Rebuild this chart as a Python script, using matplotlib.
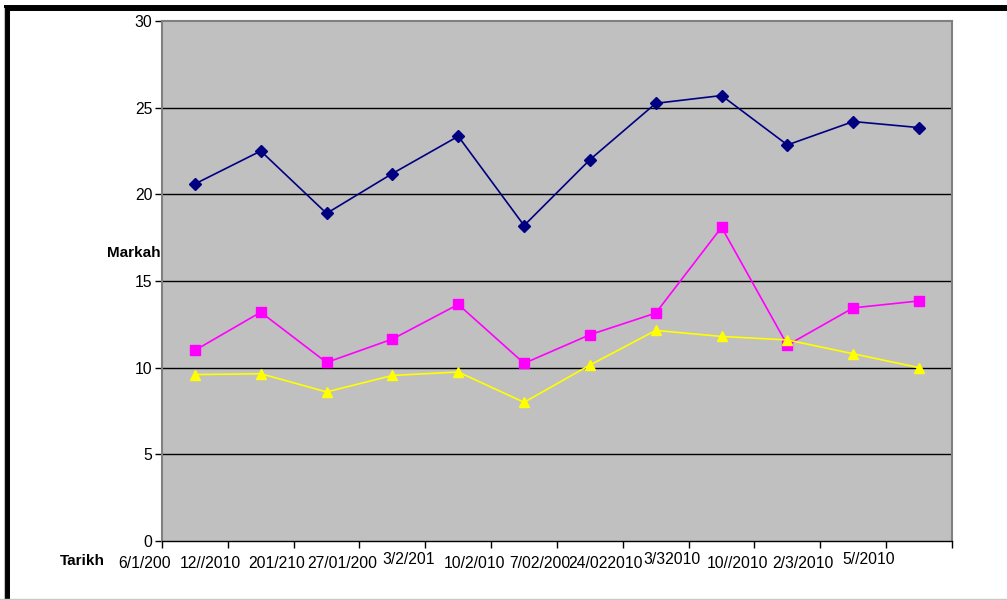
import matplotlib
matplotlib.use("Agg")
import matplotlib.pyplot as plt
from matplotlib.lines import Line2D

plt.rcParams["font.family"] = ["Liberation Sans", "DejaVu Sans"]

# Tarikh ujian dan markah bagi tiga siri
tarikh = ["6/1/200", "12//2010", "201/210", "27/01/200", "3/2/201", "10/2/010",
          "7/02/200", "24/022010", "3/32010", "10//2010", "2/3/2010", "5//2010"]
siri_biru = [20.6, 22.5, 18.9, 21.2, 23.35, 18.2, 22.0, 25.25, 25.7, 22.85, 24.2, 23.85]
siri_merah = [11.0, 13.2, 10.3, 11.65, 13.65, 10.25, 11.9, 13.15, 18.1, 11.3, 13.45, 13.85]
siri_kuning = [9.6, 9.65, 8.6, 9.55, 9.75, 8.0, 10.15, 12.15, 11.8, 11.6, 10.8, 10.0]
label_naik = [4, 8, 11]  # label yang terangkat sedikit

W, H = 1007, 600
fig = plt.figure(figsize=(W / 100, H / 100), dpi=100)
fig.patch.set_facecolor("white")

ax = fig.add_axes([162 / W, 1 - 541 / H, (952 - 162) / W, (541 - 21) / H])
ax.set_facecolor("#C0C0C0")

x = list(range(len(tarikh)))
ax.plot(x, siri_biru, color="#000080", lw=1.2, marker="D", ms=6.3, zorder=3)
ax.plot(x, siri_merah, color="#FF00FF", lw=1.2, marker="s", ms=6.5, zorder=3)
ax.plot(x, siri_kuning, color="#FFFF00", lw=1.2, marker="^", ms=7.5, zorder=3)

ax.set_xlim(-0.5, len(tarikh) - 0.5)
ax.set_ylim(0, 30)
ax.set_yticks(range(0, 31, 5))
ax.set_xticks([i - 0.5 for i in range(len(tarikh) + 1)])
ax.set_xticklabels([])
ax.tick_params(axis="y", direction="out", length=5, width=1, labelsize=11.3, pad=2)
ax.tick_params(axis="x", direction="out", length=5, width=1)

for v in range(5, 30, 5):
    ax.axhline(v, color="black", lw=1, zorder=1)

for s in ["top", "right", "left"]:
    ax.spines[s].set_color("#808080")
    ax.spines[s].set_linewidth(1.5)
ax.spines["bottom"].set_color("black")
ax.spines["bottom"].set_linewidth(1)

# Label tarikh, dianjak ke kiri seperti asal
tr = ax.get_xaxis_transform()
for i, t in enumerate(tarikh):
    dy = 3 if i in label_naik else 0
    ax.text(i - 0.76, -(22 - dy) / 520, t, transform=tr, ha="center", va="center",
            fontsize=11.3, clip_on=False)

fig.text(105 / W, 1 - 561 / H, "Tarikh", ha="right", va="center", fontsize=11,
         fontweight="bold")
fig.text(161 / W, 1 - 253 / H, "Markah", ha="right", va="center", fontsize=11,
         fontweight="bold")

# Bingkai luar
fig.add_artist(Line2D([7 / W, 7 / W], [1 - 8 / H, 0], color="black", lw=4.3,
                      transform=fig.transFigure, solid_capstyle="butt"))
fig.add_artist(Line2D([4 / W, 1], [1 - 8 / H, 1 - 8 / H], color="black", lw=4.3,
                      transform=fig.transFigure, solid_capstyle="butt"))
fig.add_artist(Line2D([3.5 / W, 3.5 / W], [1 - 8 / H, 0], color="#C0C0C0", lw=0.8,
                      transform=fig.transFigure))
fig.add_artist(Line2D([0, 1], [1 - 598.5 / H, 1 - 598.5 / H], color="#C8C8C8", lw=1,
                      transform=fig.transFigure))

fig.savefig("out.png", dpi=100)
